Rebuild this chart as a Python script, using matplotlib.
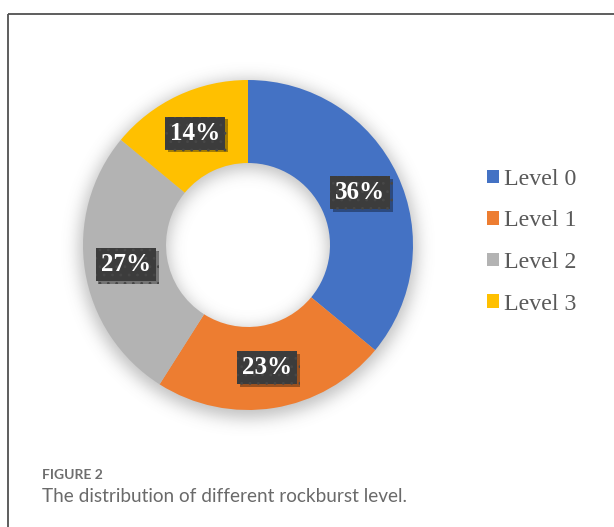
import numpy as np
import matplotlib.pyplot as plt
from matplotlib import patheffects

# Rockburst level shares (percent)
levels = ['Level 0', 'Level 1', 'Level 2', 'Level 3']
shares = [36, 23, 27, 14]
colors = ['#4472C4', '#ED7D31', '#B3B3B3', '#FFC000']

W, H = 614, 527
cx, cy = 248, H - 245     # donut centre in pixel units (y up)
r_out, r_in = 165, 82

fig = plt.figure(figsize=(W / 100, H / 100), dpi=100)
ax = fig.add_axes([0, 0, 1, 1])
ax.set_xlim(0, W)
ax.set_ylim(0, H)
ax.set_aspect('equal')
ax.axis('off')

# soft drop shadow under the ring: blurred ring mask, nudged down
xs = np.arange(W) + 0.5
ys = H - (np.arange(H) + 0.5)
X, Y = np.meshgrid(xs, ys)
d = np.hypot(X - cx, Y - (cy - 4))
ring = ((d <= r_out + 4) & (d >= r_in - 2)).astype(float)
sig = 8.0
k = np.exp(-0.5 * (np.arange(-30, 31) / sig) ** 2)
k /= k.sum()
blur = np.apply_along_axis(lambda v: np.convolve(v, k, mode='same'), 0, ring)
blur = np.apply_along_axis(lambda v: np.convolve(v, k, mode='same'), 1, blur)
shadow = np.zeros((H, W, 4))
shadow[..., :3] = 0.35
shadow[..., 3] = 0.38 * blur
ax.imshow(shadow, extent=[0, W, 0, H], origin='upper', zorder=0,
          interpolation='bilinear')

wedges, _, autotexts = ax.pie(
    shares, colors=colors, startangle=90, counterclock=False,
    center=(cx, cy), radius=r_out, autopct=lambda p: f'{p:.0f}%',
    pctdistance=0.75, wedgeprops=dict(width=r_out - r_in, linewidth=0),
    frame=True)
ax.set_xlim(0, W)
ax.set_ylim(0, H)
ax.axis('off')

plt.rcParams['hatch.linewidth'] = 0.8
for t in autotexts:
    t.set_fontfamily('Liberation Serif')
    t.set_fontweight('bold')
    t.set_fontsize(18)
    t.set_color('white')
    t.set_bbox(dict(boxstyle='square,pad=0.2', facecolor='#3c3c3c',
                    edgecolor='#474747', linewidth=0, hatch='..'))
    t.get_bbox_patch().set_path_effects([
        patheffects.SimplePatchShadow(offset=(2, -2), shadow_rgbFace='#000000',
                                      alpha=0.35),
        patheffects.Normal()])

leg = ax.legend(wedges, levels, loc='upper left',
                bbox_to_anchor=(475 / W, 1 - 157 / H), frameon=False,
                prop=dict(family='Liberation Serif', size=17.2),
                labelcolor='#595959', handlelength=0.5, handleheight=0.5,
                handletextpad=0.22, labelspacing=0.86, borderpad=0)

# outer frame of the panel
ax.plot([7.5, W], [H - 13.5, H - 13.5], color='#505050', lw=1.3,
        solid_capstyle='butt')
ax.plot([7.5, 7.5], [H - 13.5, 0], color='#505050', lw=1.3,
        solid_capstyle='butt')

fig.text(42 / W, 1 - 479 / H, 'FIGURE 2', family='Lato', weight='bold',
         size=10, color='#6e6e6e')
fig.text(42 / W, 1 - 502 / H, 'The distribution of different rockburst level.',
         family='Lato', weight='normal', size=13.7, color='#6a6a6a')

fig.savefig('out.png', dpi=100)
